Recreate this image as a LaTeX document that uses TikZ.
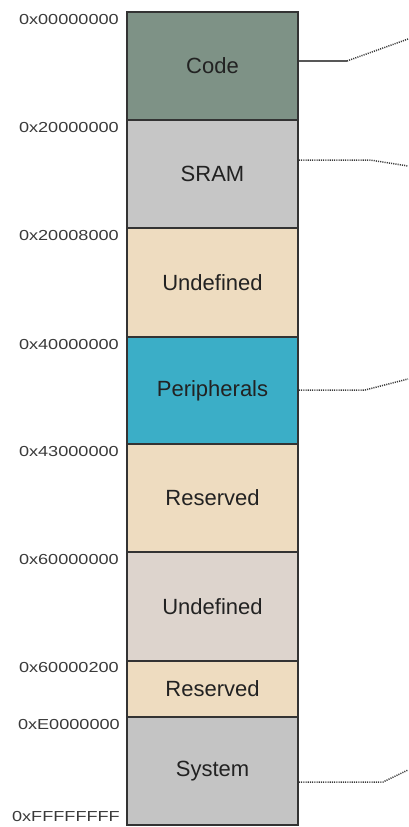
\documentclass[tikz,border=0pt]{standalone}
\usepackage{fontspec}
\setmainfont{Liberation Sans}
\newfontfamily\addrfont[FakeStretch=1.25]{Liberation Sans}
\usetikzlibrary{calc}

\definecolor{segline}{HTML}{333333}
\definecolor{segtext}{HTML}{222222}
\definecolor{addrtext}{HTML}{3A3A3A}
\definecolor{linkc}{HTML}{3A3A3A}
\definecolor{codefill}{HTML}{7E9286}
\definecolor{sramfill}{HTML}{C6C6C6}
\definecolor{beigefill}{HTML}{EEDCC0}
\definecolor{periphfill}{HTML}{3BAEC7}
\definecolor{undeffill}{HTML}{DDD4CD}
\definecolor{sysfill}{HTML}{C4C4C4}

\begin{document}
\begin{tikzpicture}[x=1pt,y=-1pt,
  seg/.style={draw=segline, line width=1.8pt, minimum width=171pt,
    inner sep=0pt, text=segtext, font=\fontsize{22}{26}\selectfont},
  addr/.style={inner sep=0pt, text=addrtext,
    font=\addrfont\fontsize{14.5}{17}\selectfont},
  wire/.style={draw=linkc!85, line width=1.1pt},
  dotwire/.style={draw=linkc, line width=1.5pt, dash pattern=on 1.1pt off 1.1pt},
]
\useasboundingbox (0,0) rectangle (408,827);

% memory segments, top to bottom
\node[seg, fill=codefill,   minimum height=108pt] (code)   at (212.5,66)  {Code};
\node[seg, fill=sramfill,   minimum height=108pt] (sram)   at (212.5,174) {SRAM};
\node[seg, fill=beigefill,  minimum height=109pt] (undefa) at (212.5,282.5) {Undefined};
\node[seg, fill=periphfill, minimum height=107pt] (periph) at (212.5,390.5) {Peripherals};
\node[seg, fill=beigefill,  minimum height=108pt] (resa)   at (212.5,498) {Reserved};
\node[seg, fill=undeffill,  minimum height=109pt] (undefb) at (212.5,606.5) {Undefined};
\node[seg, fill=beigefill,  minimum height=56pt]  (resb)   at (212.5,689) {Reserved};
\node[seg, fill=sysfill,    minimum height=108pt] (sys)    at (212.5,771) {System};

% start addresses
\node[addr, anchor=north east] (a0) at (119,14.5)  {0x00000000};
\node[addr, anchor=north east] (a1) at (119,122)   {0x20000000};
\node[addr, anchor=north east] (a2) at (119,230)   {0x20008000};
\node[addr, anchor=north east] (a3) at (119,339)   {0x40000000};
\node[addr, anchor=north east] (a4) at (119,446)   {0x43000000};
\node[addr, anchor=north east] (a5) at (119,554)   {0x60000000};
\node[addr, anchor=north east] (a6) at (119,662)   {0x60000200};
\node[addr, anchor=north east] (a7) at (120,719)   {0xE0000000};
\node[addr, anchor=south east] (a8) at (120,822)   {0xFFFFFFFF};

% leader lines to the detail views
\coordinate (codeBend) at (347,61);
\coordinate (codeEnd)  at (408,39);
\coordinate (sramBend) at (370,160);
\coordinate (sramEnd)  at (408,166);
\coordinate (perBend)  at (365,390);
\coordinate (perEnd)   at (408,379);
\coordinate (sysBend)  at (383,782);
\coordinate (sysEnd)   at (408,770);

\draw[wire]    (code.east |- codeBend) -- (codeBend);
\draw[dotwire] (codeBend) -- (codeEnd);
\draw[dotwire] (sram.east |- sramBend) -- (sramBend) -- (sramEnd);
\draw[dotwire] (periph.east |- perBend) -- (perBend) -- (perEnd);
\draw[dotwire] (sys.east |- sysBend) -- (sysBend) -- (sysEnd);
\end{tikzpicture}
\end{document}
